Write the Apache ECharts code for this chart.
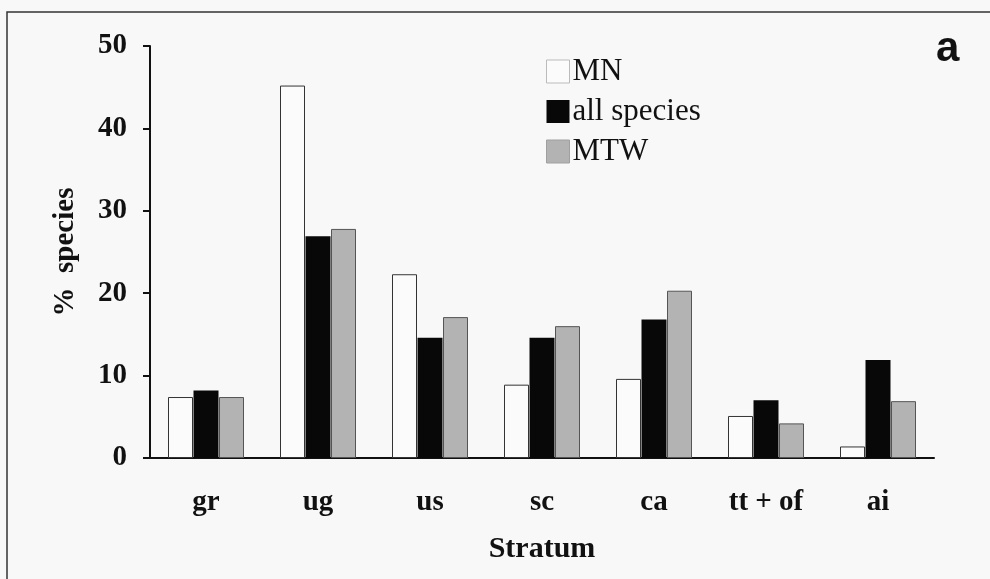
<!DOCTYPE html>
<html>
<head>
<meta charset="utf-8">
<script src="https://cdn.jsdelivr.net/npm/echarts@6/dist/echarts.min.js"></script>
<style>
html,body{margin:0;padding:0;background:#f8f8f8;}
#chart{width:990px;height:579px;}
</style>
</head>
<body>
<div id="chart"></div>
<script>
const categories = ['gr', 'ug', 'us', 'sc', 'ca', 'tt + of', 'ai'];
const mnValues = [7.4, 45.2, 22.3, 8.9, 9.6, 5.1, 1.4];
const allSpeciesValues = [8.2, 26.9, 14.6, 14.6, 16.8, 7.0, 11.9];
const mtwValues = [7.4, 27.8, 17.1, 16.0, 20.3, 4.2, 6.9];
const yTicks = [0, 10, 20, 30, 40, 50];

const chart = echarts.init(document.getElementById('chart'));
const serif = '"Liberation Serif", "Times New Roman", serif';
chart.setOption({
  backgroundColor: '#f8f8f8',
  animation: false,
  graphic: [
    { type: 'rect', shape: { x: 7, y: 12, width: 1000, height: 600 },
      style: { fill: 'none', stroke: '#333', lineWidth: 1.5 }, z: 0 },
    { type: 'text', left: 936, top: 28,
      style: { text: 'a', font: 'bold 42px "Liberation Sans", Arial, sans-serif', fill: '#111' } }
  ],
  legend: {
    orient: 'vertical',
    left: 541,
    top: 51,
    itemWidth: 23,
    itemHeight: 23,
    itemGap: 9,
    icon: 'rect',
    textStyle: { fontFamily: serif, fontSize: 31, color: '#111', padding: [0, 0, 0, -2] },
    data: [
      { name: 'MN', itemStyle: { color: '#fbfbfb', borderColor: '#bbb', borderWidth: 1 } },
      { name: 'all species', itemStyle: { color: '#080808' } },
      { name: 'MTW', itemStyle: { color: '#b3b3b3', borderColor: '#a0a0a0', borderWidth: 1 } }
    ]
  },
  grid: { left: 150, right: 56, top: 46, bottom: 121 },
  xAxis: {
    type: 'category',
    data: categories,
    name: 'Stratum',
    nameLocation: 'middle',
    nameGap: 76,
    nameTextStyle: { fontFamily: serif, fontWeight: 'bold', fontSize: 30, color: '#111' },
    axisLine: { lineStyle: { color: '#111', width: 2 } },
    axisTick: { length: 10, lineStyle: { color: '#111', width: 2 } },
    axisLabel: { fontFamily: serif, fontWeight: 'bold', fontSize: 29, color: '#111', margin: 30 }
  },
  yAxis: {
    type: 'value',
    min: 0,
    max: 50,
    interval: 10,
    name: '%  species',
    nameLocation: 'middle',
    nameGap: 70,
    nameRotate: 90,
    nameTextStyle: { fontFamily: serif, fontWeight: 'bold', fontSize: 29, color: '#111' },
    axisLine: { show: true, lineStyle: { color: '#111', width: 2 } },
    axisTick: { show: true, length: 7, lineStyle: { color: '#111', width: 2 } },
    splitLine: { show: false },
    axisLabel: { fontFamily: serif, fontWeight: 'bold', fontSize: 29, color: '#111', margin: 23,
      formatter: v => yTicks.includes(v) ? String(v) : '' }
  },
  series: [
    { name: 'MN', type: 'bar', data: mnValues, barWidth: 25, barGap: '2%',
      itemStyle: { color: '#fbfbfb', borderColor: '#333', borderWidth: 1 } },
    { name: 'all species', type: 'bar', data: allSpeciesValues, barWidth: 25, barGap: '2%',
      itemStyle: { color: '#080808' } },
    { name: 'MTW', type: 'bar', data: mtwValues, barWidth: 25, barGap: '2%',
      itemStyle: { color: '#b3b3b3', borderColor: '#555', borderWidth: 1 } }
  ]
});
</script>
</body>
</html>
